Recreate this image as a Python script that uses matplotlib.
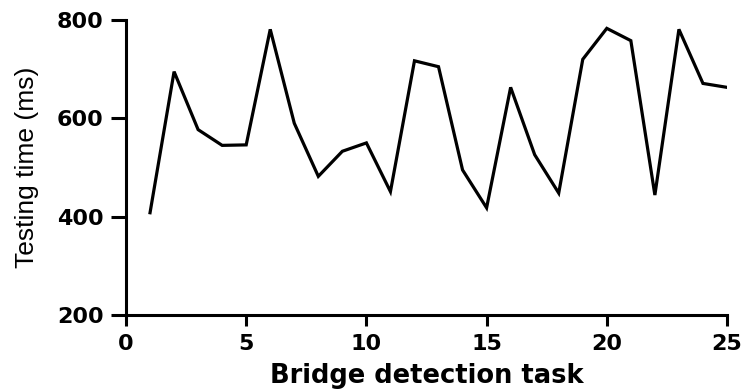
import matplotlib
matplotlib.use("Agg")
import matplotlib.pyplot as plt

tasks = list(range(1, 26))
testing_time = [408, 695, 577, 545, 546, 781, 590, 482, 533, 550,
                451, 717, 705, 495, 418, 663, 526, 448, 720, 783,
                758, 444, 781, 671, 663]
x_ticks = [0, 5, 10, 15, 20, 25]
y_ticks = [200, 400, 600, 800]

fig = plt.figure(figsize=(7.45, 3.92), dpi=100)
ax = fig.add_axes([126/745, 1 - 315/392, 601/745, 295/392])

ax.plot(tasks, testing_time, color="black", linewidth=2.3, solid_joinstyle="miter")

ax.set_xlim(0, 25)
ax.set_ylim(200, 800)
ax.set_xticks(x_ticks)
ax.set_yticks(y_ticks)

for s in ["top", "right"]:
    ax.spines[s].set_visible(False)
for s in ["left", "bottom"]:
    ax.spines[s].set_linewidth(2.2)
    ax.spines[s].set_capstyle("projecting")

ax.tick_params(axis="x", length=8, width=2.2, pad=6)
ax.tick_params(axis="y", length=11, width=2.2, pad=5)
for lab in ax.get_xticklabels() + ax.get_yticklabels():
    lab.set_fontfamily("DejaVu Sans")
    lab.set_fontweight("bold")
    lab.set_fontsize(16)

ax.set_xlabel("Bridge detection task", fontfamily="DejaVu Sans", fontweight="bold",
              fontsize=18.5, labelpad=6)
ax.set_ylabel("Testing time (ms)", fontfamily="Liberation Sans",
              fontsize=19, labelpad=13)

fig.savefig("out.png", dpi=100)
